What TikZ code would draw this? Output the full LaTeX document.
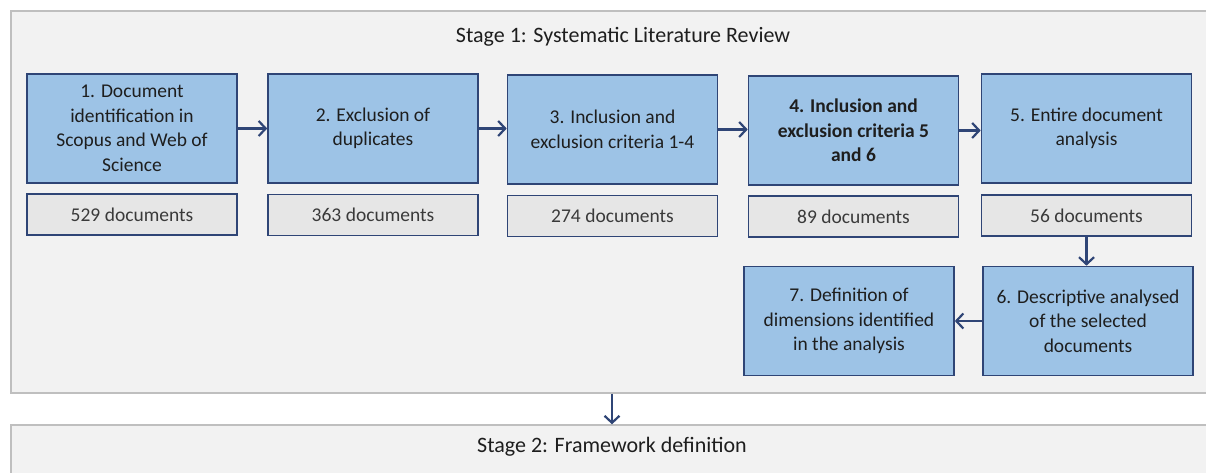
\documentclass[tikz,border=0pt]{standalone}
\usepackage{fontspec}
\setmainfont{Carlito}
\usetikzlibrary{arrows.meta}
\definecolor{bluefill}{HTML}{9DC3E6}
\definecolor{navy}{HTML}{2F4576}
\definecolor{grayfill}{HTML}{E6E6E6}
\definecolor{stagefill}{HTML}{F2F2F2}
\definecolor{stageline}{HTML}{BFBFBF}
\definecolor{txt}{HTML}{1E1E1E}
\definecolor{txtgray}{HTML}{3A3A3A}
\tikzset{
  stagebox/.style={draw=stageline, fill=stagefill, line width=1.4pt, inner sep=0pt},
  bluebox/.style={draw=navy, fill=bluefill, line width=1.6pt, minimum width=210pt, minimum height=109pt, inner sep=0pt, align=center, text=txt, font=\fontsize{19.5}{24.5}\selectfont},
  graybox/.style={draw=navy, fill=grayfill, line width=1.6pt, minimum width=210pt, minimum height=41pt, inner sep=0pt, align=center, text=txtgray, font=\fontsize{19.5}{24}\selectfont},
  titletext/.style={text=txt, font=\fontsize{22}{26}\selectfont, inner sep=0pt},
  flow/.style={draw=navy, line width=2.2pt, -{Straight Barb[length=7pt,width=15pt,line width=2.2pt]}}
}
\begin{document}
\begin{tikzpicture}[x=1pt,y=-1pt]
\useasboundingbox (0,0) rectangle (1206,473);
\clip (0,0) rectangle (1206,473);
\fill[white] (0,0) rectangle (1206,473);
% stages
\node[stagebox, minimum width=1204pt, minimum height=382pt] (s1) at (613,202) {};
\node[stagebox, minimum width=1204pt, minimum height=80pt] (s2) at (613,465) {};
\node[titletext] (t1) at (623,37) {Stage 1: Systematic Literature Review};
\node[titletext] (t2) at (612,447) {Stage 2: Framework definition};
% row 1
\node[bluebox] (b1) at (132,128.5) {1. Document\\identification in\\Scopus and Web of\\Science};
\node[bluebox] (b2) at (373,128.5) {2. Exclusion of\\duplicates};
\node[bluebox] (b3) at (612.5,129.5) {3. Inclusion and\\exclusion criteria 1-4};
\node[bluebox, font=\fontsize{19.5}{24.5}\selectfont\bfseries] (b4) at (853.5,130.5) {4. Inclusion and\\exclusion criteria 5\\and 6};
\node[bluebox] (b5) at (1086.5,128.5) {5. Entire document\\analysis};
% counts
\node[graybox] (g1) at (132,214.5) {529 documents};
\node[graybox] (g2) at (373,215) {363 documents};
\node[graybox] (g3) at (612.5,216) {274 documents};
\node[graybox] (g4) at (853.5,216.5) {89 documents};
\node[graybox] (g5) at (1086.5,215.5) {56 documents};
% row 2
\node[bluebox] (b6) at (1088,321) {6. Descriptive analysed\\of the selected\\documents};
\node[bluebox] (b7) at (849,321) {7. Definition of\\dimensions identified\\in the analysis};
% connectors
\draw[flow] (b1.east) -- (b1.east -| b2.west);
\draw[flow] (b2.east) -- (b2.east -| b3.west);
\draw[flow] (b3.east) -- (b3.east -| b4.west);
\draw[flow] (b4.east) -- (b4.east -| b5.west);
\draw[flow] (g5.south) -- (g5.south |- b6.north);
\draw[flow] (b6.west) -- (b7.east);
\draw[flow] (s1.south -| t2.north) -- (s2.north -| t2.north);
\end{tikzpicture}
\end{document}
